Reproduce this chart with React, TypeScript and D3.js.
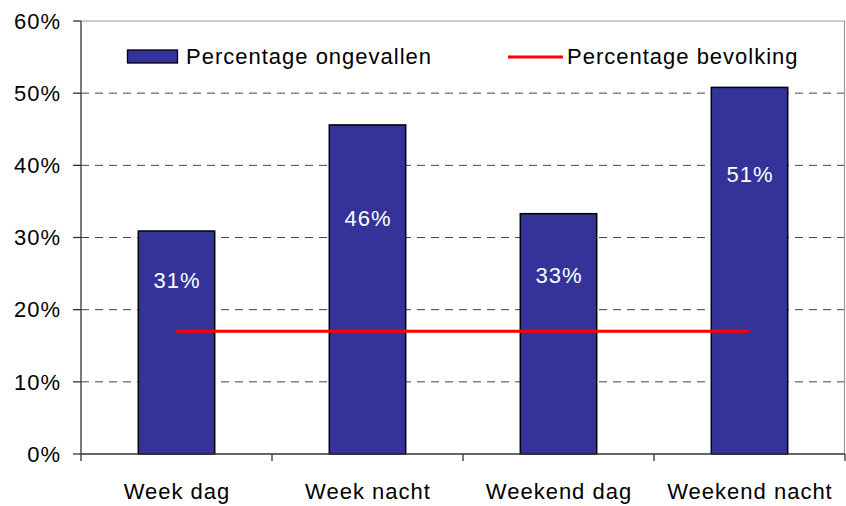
import React from "react";
import * as d3 from "d3";

const categories = ["Week dag", "Week nacht", "Weekend dag", "Weekend nacht"];
const accidentPct = [30.9, 45.6, 33.3, 50.8];
const accidentLabels = ["31%", "46%", "33%", "51%"];
const labelAt = [24.1, 32.7, 24.8, 38.7];
const populationPct = [17, 17, 17, 17];
const yTicks = [0, 10, 20, 30, 40, 50, 60];
const legendNames = ["Percentage ongevallen", "Percentage bevolking"];

const W = 846;
const H = 506;
const M = { left: 81, right: 1, top: 21, bottom: 52 };

export default function App() {
  const x = d3
    .scaleBand<string>()
    .domain(categories)
    .range([M.left, W - M.right])
    .paddingInner(0)
    .paddingOuter(0);
  const y = d3.scaleLinear().domain([0, 60]).range([H - M.bottom, M.top]);
  const bw = x.bandwidth() * 0.4;
  const font = "Arial, 'Liberation Sans', sans-serif";
  const line = d3
    .line<number>()
    .x((_, i) => (x(categories[i]) as number) + x.bandwidth() / 2)
    .y((d) => y(d));
  const x0 = M.left;
  const x1 = W - M.right;
  const y0 = y(0);
  const ls = 1;

  return (
    <svg
      width={W}
      height={H}
      style={{ position: "absolute", left: 0, top: 0, background: "#fff" }}
      fontFamily={font}
    >
      {yTicks
        .filter((t) => t > 0 && t < 60)
        .map((t) => (
          <line
            key={t}
            x1={x0}
            x2={x1}
            y1={y(t)}
            y2={y(t)}
            stroke="#444"
            strokeWidth={1}
            strokeDasharray="8,6"
          />
        ))}
      <line x1={x0} x2={x1} y1={y(60)} y2={y(60)} stroke="#999" strokeWidth={1.2} />
      <line x1={x1 - 0.5} x2={x1 - 0.5} y1={y(60)} y2={y0} stroke="#999" strokeWidth={1.2} />
      {categories.map((c, i) => {
        const cx = (x(c) as number) + x.bandwidth() / 2;
        return (
          <g key={c}>
            <rect
              x={cx - bw / 2}
              y={y(accidentPct[i])}
              width={bw}
              height={y0 - y(accidentPct[i])}
              fill="#333399"
              stroke="#000"
              strokeWidth={1.5}
            />
            <text
              x={cx + ls / 2}
              y={y(labelAt[i])}
              dy="0.35em"
              textAnchor="middle"
              fill="#fff"
              fontSize={22}
              letterSpacing={ls}
            >
              {accidentLabels[i]}
            </text>
          </g>
        );
      })}
      <path d={line(populationPct) || ""} fill="none" stroke="#ff0000" strokeWidth={3} />
      <line x1={x0} x2={x0} y1={y(60)} y2={y0} stroke="#333" strokeWidth={1.3} />
      {yTicks.map((t) => (
        <g key={t}>
          <line x1={x0 - 8} x2={x0} y1={y(t)} y2={y(t)} stroke="#333" strokeWidth={1.3} />
          <text
            x={x0 - 20}
            y={y(t)}
            dy="0.35em"
            textAnchor="end"
            fontSize={22}
            letterSpacing={ls}
            fill="#000"
          >
            {t}%
          </text>
        </g>
      ))}
      <line x1={x0} x2={x1} y1={y0} y2={y0} stroke="#333" strokeWidth={1.3} />
      {categories.map((c, i) => (
        <line
          key={"t" + i}
          x1={(x(c) as number) + x.bandwidth()}
          x2={(x(c) as number) + x.bandwidth()}
          y1={y0}
          y2={y0 + 7}
          stroke="#333"
          strokeWidth={1.3}
        />
      ))}
      <line x1={x0} x2={x0} y1={y0} y2={y0 + 7} stroke="#333" strokeWidth={1.3} />
      {categories.map((c) => (
        <text
          key={"l" + c}
          x={(x(c) as number) + x.bandwidth() / 2 + ls / 2}
          y={499}
          textAnchor="middle"
          fontSize={22}
          letterSpacing={ls}
          fill="#000"
        >
          {c}
        </text>
      ))}
      <rect x={127.5} y={50} width={50} height={13} fill="#333399" stroke="#000" strokeWidth={1.3} />
      <text x={186} y={64} fontSize={22} letterSpacing={ls} fill="#000">
        {legendNames[0]}
      </text>
      <line x1={508} x2={563} y1={57} y2={57} stroke="#ff0000" strokeWidth={3} />
      <text x={567} y={64} fontSize={22} letterSpacing={ls} fill="#000">
        {legendNames[1]}
      </text>
    </svg>
  );
}
